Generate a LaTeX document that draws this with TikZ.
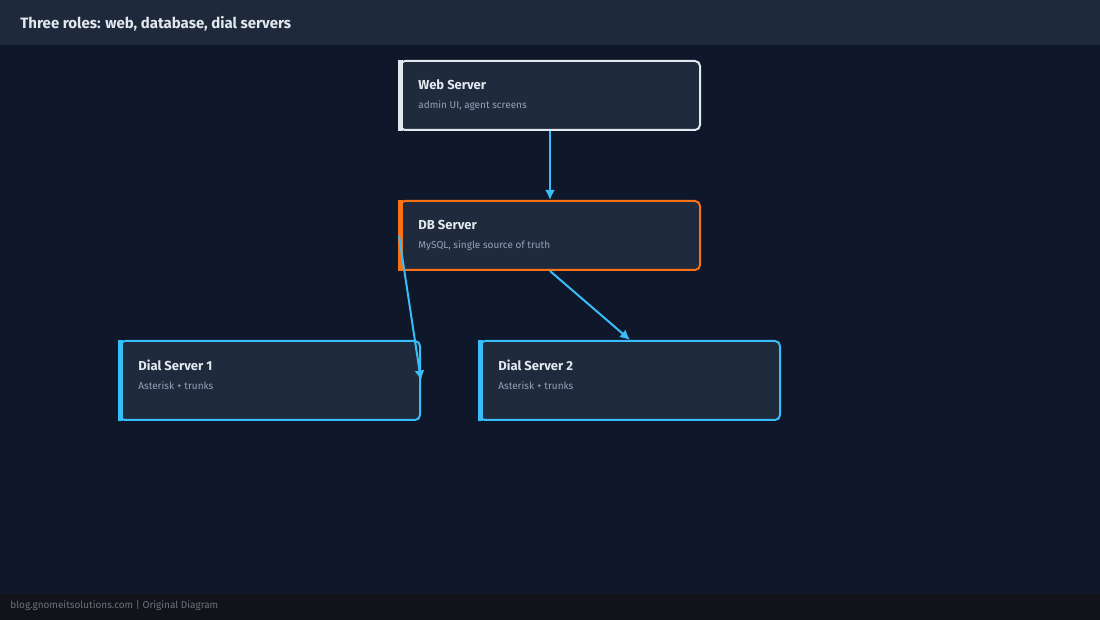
\documentclass[tikz,border=0pt]{standalone}
\usepackage{fontspec}
\setmainfont{Fira Sans}
\usetikzlibrary{arrows.meta}
\definecolor{bgdark}{HTML}{0F172A}
\definecolor{bgbar}{HTML}{1E293B}
\definecolor{boxfill}{HTML}{1F2A3C}
\definecolor{footbg}{HTML}{111318}
\definecolor{webedge}{HTML}{E2E8F0}
\definecolor{dbedge}{HTML}{F97316}
\definecolor{dialedge}{HTML}{38BDF8}
\definecolor{subtext}{HTML}{94A3B8}
\definecolor{foottext}{HTML}{6B7280}
\tikzset{
    server/.style = {line width=1pt, fill=boxfill, rounded corners=2.5pt,
        minimum width=150pt, minimum height=#1, inner sep=0pt},
    server/.default = 34.5pt,
    headline/.style = {anchor=west, text=webedge, font=\bfseries\fontsize{6.5}{7}\selectfont, inner sep=0pt},
    subline/.style = {anchor=west, text=subtext, font=\fontsize{5}{6}\selectfont, inner sep=0pt},
    link/.style = {-{Latex[length=5pt,width=5pt]}, line width=1pt, dialedge}
}
\newcommand{\accentbar}[2]{%
    \fill[#2] ([xshift=-0.5pt]#1.north west) rectangle ([xshift=2pt]#1.south west);}
\begin{document}
\begin{tikzpicture}[x=0.5pt, y=-0.5pt]
    \useasboundingbox (0,0) rectangle (1100,620);
    \fill[bgdark] (0,0) rectangle (1100,620);
    \fill[bgbar] (0,0) rectangle (1100,45);
    \fill[footbg] (0,594) rectangle (1100,620);
    \node[anchor=west, text=webedge, font=\bfseries\fontsize{7.5}{8}\selectfont, inner sep=0pt] (title) at (20,24) {Three roles: web, database, dial servers};
    \node[anchor=west, text=foottext, font=\fontsize{5}{6}\selectfont, inner sep=0pt] (footer) at (10,606) {blog.gnomeitsolutions.com | Original Diagram};

    % servers
    \node[server, draw=webedge] (web) at (550,95.5) {};
    \accentbar{web}{webedge}
    \node[headline] (webT) at (418,85) {Web Server};
    \node[subline] (webS) at (418,106) {admin UI, agent screens};

    \node[server, draw=dbedge] (db) at (550,235.5) {};
    \accentbar{db}{dbedge}
    \node[headline] (dbT) at (418,225) {DB Server};
    \node[subline] (dbS) at (418,246) {MySQL, single source of truth};

    \node[server=39.5pt, draw=dialedge] (dial1) at (270,380.5) {};
    \accentbar{dial1}{dialedge}
    \node[headline] (dial1T) at (138,365) {Dial Server 1};
    \node[subline] (dial1S) at (138,386) {Asterisk + trunks};

    \node[server=39.5pt, draw=dialedge] (dial2) at (630,380.5) {};
    \accentbar{dial2}{dialedge}
    \node[headline] (dial2T) at (498,365) {Dial Server 2};
    \node[subline] (dial2S) at (498,386) {Asterisk + trunks};

    % links
    \draw[link] (web.south) -- (db.north);
    \draw[link] (db.west) -- (dial1.east);
    \draw[link] (db.south) -- (dial2.north);
\end{tikzpicture}
\end{document}
